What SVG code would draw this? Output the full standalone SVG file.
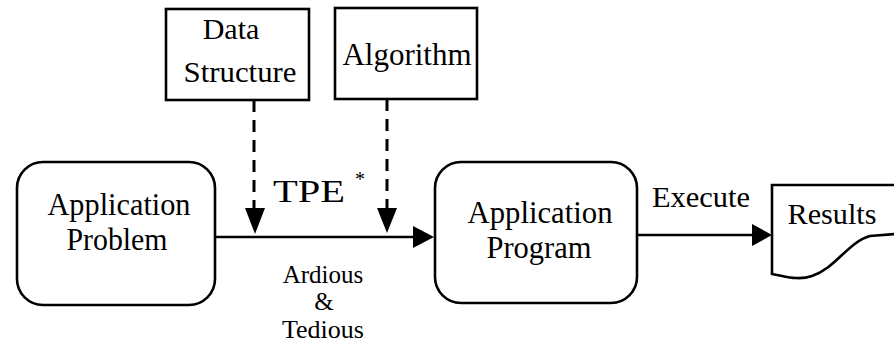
<svg xmlns="http://www.w3.org/2000/svg" width="894" height="350" viewBox="0 0 894 350">
<style>
.box{fill:#fff;stroke:#000;stroke-width:2.6}
.t{font-family:'Liberation Serif','Times New Roman','DejaVu Serif',serif;fill:#000;text-anchor:middle}
.line{fill:none;stroke:#000;stroke-width:2.6}
.dash{fill:none;stroke:#000;stroke-width:3;stroke-dasharray:12 8}
.head{fill:#000}
</style>
<rect width="894" height="350" fill="#fff"/>
<g id="data-structure">
<rect class="box" x="166" y="9" width="143" height="91"/>
<text class="t" x="231" y="39" font-size="30">Data</text>
<text class="t" x="240" y="82" font-size="30" textLength="113" lengthAdjust="spacingAndGlyphs">Structure</text>
</g>
<g id="algorithm">
<rect class="box" x="335" y="8" width="142" height="91"/>
<text class="t" x="407" y="65" font-size="31" textLength="129" lengthAdjust="spacingAndGlyphs">Algorithm</text>
</g>
<g id="application-problem">
<rect class="box" x="17" y="162" width="198" height="143" rx="26"/>
<text class="t" x="119" y="215" font-size="32" textLength="143" lengthAdjust="spacingAndGlyphs">Application</text>
<text class="t" x="117" y="250" font-size="32" textLength="101" lengthAdjust="spacingAndGlyphs">Problem</text>
</g>
<g id="application-program">
<rect class="box" x="435" y="162" width="202" height="141" rx="26"/>
<text class="t" x="540" y="223" font-size="32" textLength="145" lengthAdjust="spacingAndGlyphs">Application</text>
<text class="t" x="539" y="258" font-size="32" textLength="105" lengthAdjust="spacingAndGlyphs">Program</text>
</g>
<g id="results">
<path class="box" d="M772,185 H896 V234 L870,236 C848,242 836,268 812,276 C798,281 785,276 772,274 Z"/>
<text class="t" x="832" y="224" font-size="30" textLength="89" lengthAdjust="spacingAndGlyphs">Results</text>
</g>
<g id="connectors">
<line class="dash" x1="254" y1="100" x2="254" y2="212"/>
<polygon class="head" points="245,208 265,208 255,234"/>
<line class="dash" x1="387" y1="99" x2="387" y2="212"/>
<polygon class="head" points="377,208 397,208 387,233"/>
<line class="line" x1="215" y1="237" x2="416" y2="237"/>
<polygon class="head" points="413,226 413,248 434,237"/>
<line class="line" x1="637" y1="235" x2="754" y2="235"/>
<polygon class="head" points="752,224 752,246 772,235"/>
<text class="t" x="309" y="202" font-size="32" textLength="72" lengthAdjust="spacingAndGlyphs">TPE</text>
<text class="t" x="360" y="186" font-size="20">*</text>
<text class="t" x="323" y="283" font-size="25">Ardious</text>
<text class="t" x="324" y="310" font-size="25">&amp;</text>
<text class="t" x="323" y="338" font-size="26">Tedious</text>
<text class="t" x="701" y="207" font-size="30" textLength="98" lengthAdjust="spacingAndGlyphs">Execute</text>
</g>
</svg>
